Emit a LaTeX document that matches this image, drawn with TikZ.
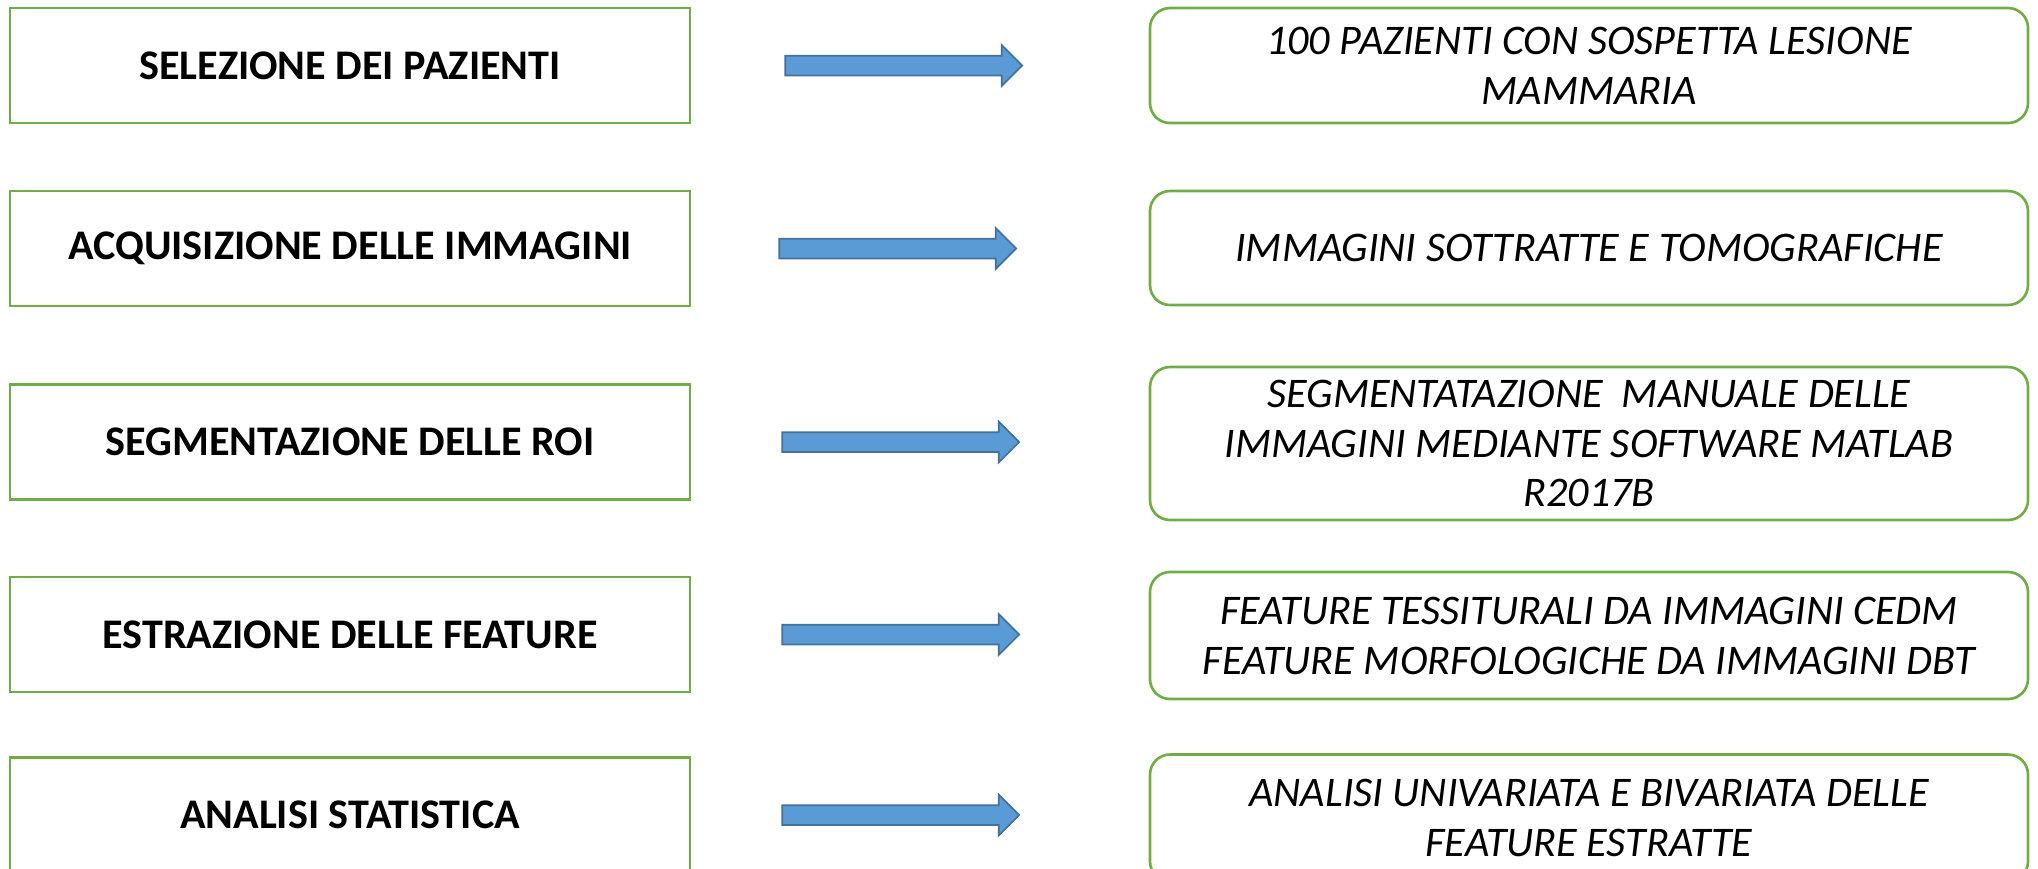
\documentclass[tikz,border=0pt]{standalone}
\usepackage{fontspec}
\setmainfont{Carlito}
\usepackage{tikz}
\usetikzlibrary{shapes.arrows, positioning, calc}

\definecolor{boxgreen}{HTML}{70AD47}
\definecolor{arrowblue}{HTML}{5B9BD5}
\definecolor{arrowedge}{HTML}{41719C}

\tikzset{
  stepbox/.style={draw=boxgreen, line width=0.75pt, minimum width=6.8cm, minimum height=1.15cm,
    font=\fontsize{12}{14.4}\selectfont\bfseries, align=center},
  resultbox/.style={draw=boxgreen, line width=0.75pt, rounded corners=0.2cm, minimum width=8.78cm,
    font=\fontsize{12}{14.2}\selectfont\itshape, align=center},
  bluearrow/.style={single arrow, draw=arrowedge, fill=arrowblue, line width=0.5pt, inner xsep=0pt,
    inner ysep=0.09cm, minimum height=2.37cm, single arrow head extend=0.105cm}
}

\begin{document}
\begin{tikzpicture}
\useasboundingbox (0,0) rectangle (20.38,-8.68);
\clip (0,0) rectangle (20.38,-8.68);

% fasi dello studio
\node[stepbox] (sel) at (3.50,-0.655) {SELEZIONE DEI PAZIENTI};
\node[stepbox] (acq) at (3.50,-2.485) {ACQUISIZIONE DELLE IMMAGINI};
\node[stepbox] (seg) at (3.50,-4.42) {SEGMENTAZIONE DELLE ROI};
\node[stepbox] (est) at (3.50,-6.345) {ESTRAZIONE DELLE FEATURE};
\node[stepbox] (ana) at (3.50,-8.15) {ANALISI STATISTICA};

% descrizioni
\node[resultbox, minimum height=1.15cm] (selr) at (15.89,-0.655) {100 PAZIENTI CON SOSPETTA LESIONE\\MAMMARIA};
\node[resultbox, minimum height=1.14cm] (acqr) at (15.89,-2.48) {IMMAGINI SOTTRATTE E TOMOGRAFICHE};
\node[resultbox, minimum height=1.53cm] (segr) at (15.89,-4.435) {SEGMENTATAZIONE\ \ MANUALE DELLE\\IMMAGINI MEDIANTE SOFTWARE MATLAB\\R2017B};
\node[resultbox, minimum height=1.27cm] (estr) at (15.89,-6.355) {FEATURE TESSITURALI DA IMMAGINI CEDM\\FEATURE MORFOLOGICHE DA IMMAGINI DBT};
\node[resultbox, minimum height=1.27cm] (anar) at (15.89,-8.18) {ANALISI UNIVARIATA E BIVARIATA DELLE\\FEATURE ESTRATTE};

% frecce
\node[bluearrow, right=0.93cm of sel] (a1) {};
\node[bluearrow, right=0.87cm of acq] (a2) {};
\node[bluearrow, right=0.90cm of seg] (a3) {};
\node[bluearrow, right=0.90cm of est] (a4) {};
\node[bluearrow, right=0.90cm of ana] (a5) {};

\end{tikzpicture}
\end{document}
